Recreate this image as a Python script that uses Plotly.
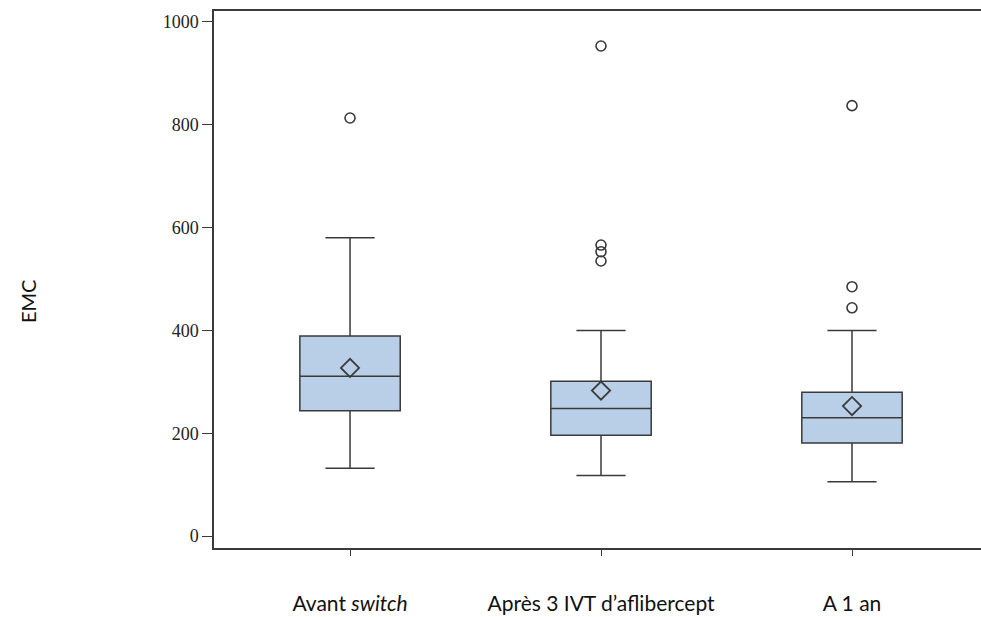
import plotly.graph_objects as go

categories = ["Avant <i>switch</i>", "Après 3 IVT d’aflibercept", "A 1 an"]
q1 = [244, 196, 181]
median = [311, 248, 230]
q3 = [389, 301, 280]
lower_whisker = [132, 118, 106]
upper_whisker = [580, 400, 400]
means = [327, 283, 253]
outliers = [[813], [953, 566, 553, 535], [837, 485, 444]]
y_ticks = [0, 200, 400, 600, 800, 1000]

line_col = "#3a3a3a"
fill_col = "#b8cfe7"
xpos = list(range(len(categories)))

fig = go.Figure()
fig.add_trace(go.Box(
    x=xpos, q1=q1, median=median, q3=q3,
    lowerfence=lower_whisker, upperfence=upper_whisker,
    width=0.4, whiskerwidth=0.49,
    fillcolor=fill_col, line=dict(color=line_col, width=1.5),
    boxpoints=False, showlegend=False, hoverinfo="skip",
))
ox, oy = [], []
for i, vals in enumerate(outliers):
    for v in vals:
        ox.append(i)
        oy.append(v)
fig.add_trace(go.Scatter(
    x=ox, y=oy, mode="markers",
    marker=dict(symbol="circle-open", size=10, color=line_col, line=dict(width=1.6)),
    showlegend=False,
))
fig.add_trace(go.Scatter(
    x=xpos, y=means, mode="markers",
    marker=dict(symbol="diamond-open", size=14, color=line_col, line=dict(width=1.8)),
    showlegend=False,
))

fig.update_layout(
    width=981, height=617,
    margin=dict(l=214, r=0, t=11, b=69),
    plot_bgcolor="white", paper_bgcolor="white",
    xaxis=dict(
        range=[-0.542, 2.514], tickmode="array", tickvals=xpos, ticktext=categories,
        showline=True, linecolor=line_col, linewidth=1.5, mirror=True,
        ticks="outside", ticklen=6, tickcolor=line_col, tickwidth=1.2,
        showgrid=False, zeroline=False,
        tickfont=dict(family="Lato, Open Sans, sans-serif", size=21, color="#111"),
        ticklabelstandoff=30,
    ),
    yaxis=dict(
        range=[-23, 1021], tickmode="array", tickvals=y_ticks,
        showline=True, linecolor=line_col, linewidth=1.5,
        ticks="outside", ticklen=10, tickcolor=line_col, tickwidth=1.2,
        showgrid=False, zeroline=False,
        tickfont=dict(family="Liberation Serif, serif", size=18, color="#222"),
    ),
    annotations=[dict(
        text="EMC", xref="paper", yref="paper", x=(28 - 214) / 767, y=(548 - 302) / 537,
        xanchor="center", yanchor="middle", textangle=-90, showarrow=False,
        font=dict(family="Lato, Open Sans, sans-serif", size=20, color="#111"),
    )],
)

fig.write_html("out.html")
